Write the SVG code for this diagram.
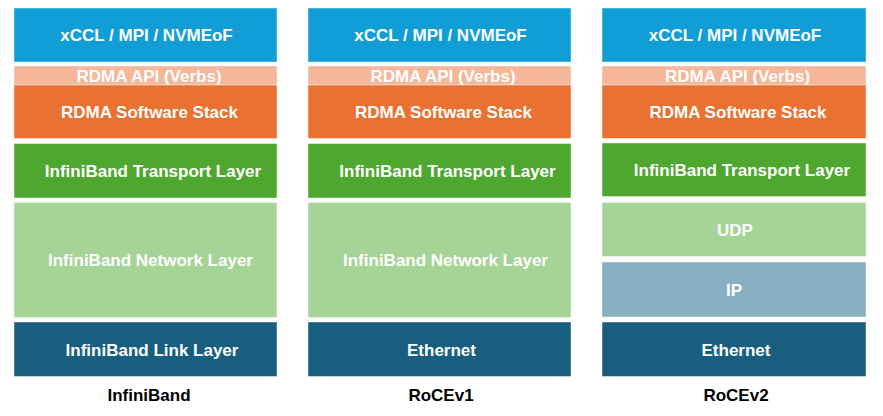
<svg xmlns="http://www.w3.org/2000/svg" width="883" height="416" viewBox="0 0 883 416">
<style>
rect{stroke:#ffffff;stroke-opacity:0.45;stroke-width:1}
text{font-family:"Liberation Sans",Arial,sans-serif;font-weight:bold;font-size:17px;text-anchor:middle;fill:#ffffff}
.lbl{fill:#000000}
.app{fill:#119ED6}.api{fill:#F4B79A}.sw{fill:#E97132}.tr{fill:#4EA72E}.nw{fill:#A6D396}.ip{fill:#8AAFC1}.lk{fill:#175E7F}
</style>
<rect width="883" height="416" fill="#ffffff" style="stroke:none"/>
<g id="col-infiniband">
<g id="ib-app"><rect class="app" x="14" y="8" width="263" height="54"/><text x="146.5" y="41">xCCL / MPI / NVMEoF</text></g>
<g id="ib-api"><rect class="api" x="14" y="66" width="263" height="19"/><text x="149" y="81.5">RDMA API (Verbs)</text></g>
<g id="ib-sw"><rect class="sw" x="14" y="85" width="263" height="53.5"/><text x="149.5" y="117.5">RDMA Software Stack</text></g>
<g id="ib-tr"><rect class="tr" x="14" y="143.5" width="263" height="54.5"/><text x="153" y="176.5">InfiniBand Transport Layer</text></g>
<g id="ib-nw"><rect class="nw" x="14" y="202.5" width="263" height="115"/><text x="150.5" y="266">InfiniBand Network Layer</text></g>
<g id="ib-lk"><rect class="lk" x="14" y="322" width="263" height="54.5"/><text x="152" y="355.5">InfiniBand Link Layer</text></g>
<g id="ib-label"><text class="lbl" x="149" y="401">InfiniBand</text></g>
</g>
<g id="col-rocev1">
<g id="v1-app"><rect class="app" x="308" y="8" width="263" height="54"/><text x="440.5" y="41">xCCL / MPI / NVMEoF</text></g>
<g id="v1-api"><rect class="api" x="308" y="66" width="263" height="19"/><text x="443" y="81.5">RDMA API (Verbs)</text></g>
<g id="v1-sw"><rect class="sw" x="308" y="85" width="263" height="53.5"/><text x="443.5" y="117.5">RDMA Software Stack</text></g>
<g id="v1-tr"><rect class="tr" x="308" y="143.5" width="263" height="54.5"/><text x="447.5" y="176.5">InfiniBand Transport Layer</text></g>
<g id="v1-nw"><rect class="nw" x="308" y="202.5" width="263" height="115"/><text x="445.5" y="266">InfiniBand Network Layer</text></g>
<g id="v1-lk"><rect class="lk" x="308" y="322" width="263" height="54.5"/><text x="441.5" y="355.5">Ethernet</text></g>
<g id="v1-label"><text class="lbl" x="441" y="401">RoCEv1</text></g>
</g>
<g id="col-rocev2">
<g id="v2-app"><rect class="app" x="602" y="8" width="264" height="54"/><text x="735" y="41">xCCL / MPI / NVMEoF</text></g>
<g id="v2-api"><rect class="api" x="602" y="66" width="264" height="19"/><text x="737.5" y="81.5">RDMA API (Verbs)</text></g>
<g id="v2-sw"><rect class="sw" x="602" y="85" width="264" height="53.5"/><text x="738" y="117.5">RDMA Software Stack</text></g>
<g id="v2-tr"><rect class="tr" x="602" y="143" width="264" height="53.5"/><text x="742" y="175.5">InfiniBand Transport Layer</text></g>
<g id="v2-udp"><rect class="nw" x="602" y="202.5" width="264" height="54"/><text x="735" y="235.5">UDP</text></g>
<g id="v2-ip"><rect class="ip" x="602" y="262" width="264" height="55"/><text x="734" y="295.5">IP</text></g>
<g id="v2-lk"><rect class="lk" x="602" y="322" width="264" height="54.5"/><text x="736" y="355.5">Ethernet</text></g>
<g id="v2-label"><text class="lbl" x="736" y="401">RoCEv2</text></g>
</g>
<g id="connectors"/>
</svg>
